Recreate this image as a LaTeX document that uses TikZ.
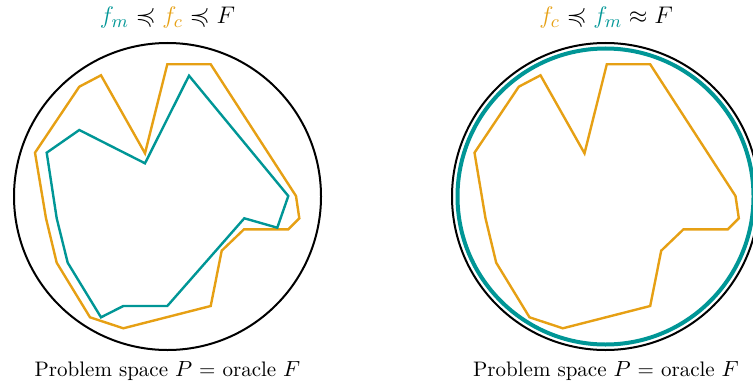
\documentclass[tikz,border=0pt]{standalone}
\usepackage{amsmath,amssymb}
\definecolor{fmteal}{RGB}{0,150,150}
\definecolor{fcorange}{RGB}{230,160,20}
\tikzset{
    space/.style={black, line width=1pt},
    fcline/.style={fcorange, line width=1.2pt, line join=miter},
    fmline/.style={fmteal, line width=1.2pt, line join=miter},
    lbl/.style={font=\fontsize{10.5}{12}\selectfont, inner sep=0pt},
    toplbl/.style={font=\fontsize{13}{15}\selectfont, inner sep=0pt}
}
% contour of f_c (same in both panels)
\newcommand{\fcshape}{(35,152.7) -- (79.3,86.7) -- (101,75.3) -- (145,153.3) -- (167.3,64.3) -- (210.7,64.3) -- (296,196) -- (299.3,218.3) -- (288.3,229.3) -- (244,229.3) -- (221.7,250.7) -- (210.7,306) -- (123.3,328.3) -- (90,317.3) -- (56.7,262.7) -- (46,218.3) -- cycle}
\begin{document}
\begin{tikzpicture}[x=0.5pt, y=-0.5pt]
    \useasboundingbox (0,0) rectangle (753,385);

    % model worse than calculator
    \begin{scope}
        \draw[space] (167.5,196.5) circle (153.5);
        \draw[fcline] \fcshape;
        \draw[fmline] (46.7,152.7) -- (79.3,130) -- (145,163.3) -- (189,75.7) -- (288.3,196) -- (277.3,227.7) -- (244.3,218.3) -- (167.3,306) -- (123.3,306) -- (101,317.3) -- (67.7,262.7) -- (56.7,218.3) -- cycle;
        \node[toplbl] (top1) at (167.5,18) {${\color{fmteal}f_m} \preccurlyeq {\color{fcorange}f_c} \preccurlyeq F$};
        \node[lbl] (bot1) at (167.5,371) {Problem space $P$ = oracle $F$};
    \end{scope}

    % model close to oracle
    \begin{scope}[xshift=219pt]
        \draw[space] (167.5,196.5) circle (153.5);
        \draw[fmteal, line width=2pt] (167.5,196.5) circle (148);
        \draw[fcline, xshift=0.75pt] \fcshape;
        \node[toplbl] (top2) at (168,18) {${\color{fcorange}f_c} \preccurlyeq {\color{fmteal}f_m} \approx F$};
        \node[lbl] (bot2) at (168,371) {Problem space $P$ = oracle $F$};
    \end{scope}
\end{tikzpicture}
\end{document}
